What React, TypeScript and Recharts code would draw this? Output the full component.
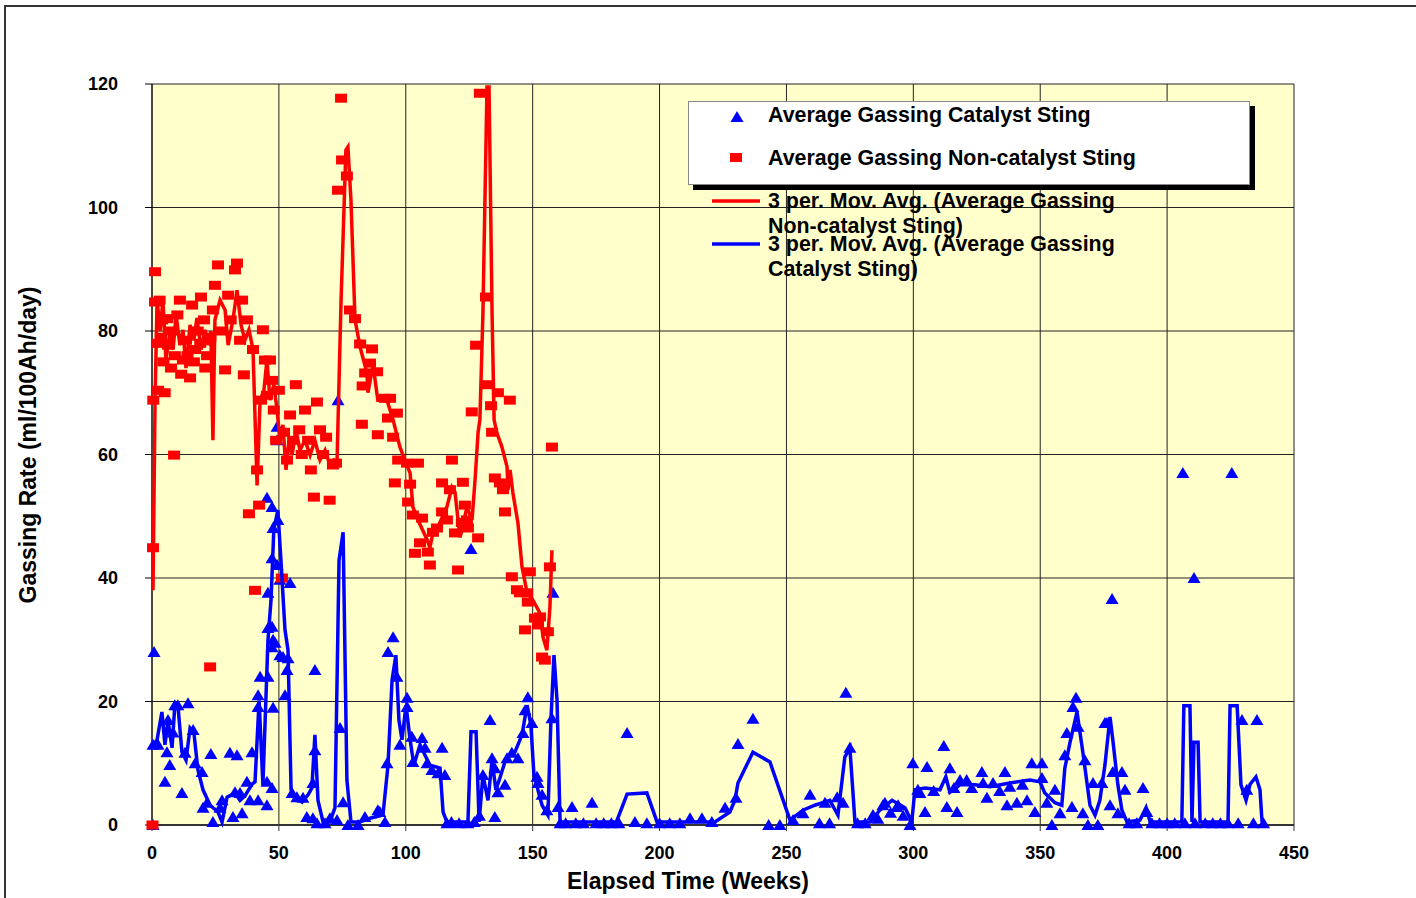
import { ScatterChart, Scatter, XAxis, YAxis, CartesianGrid, Legend } from 'recharts'

// Average Gassing Catalyst Sting (triangles)
const catalystWeeks = [
  0.4, 0.8, 0.4, 2.4, 5.1, 5.9, 6.3, 7, 8.3, 9, 10.2, 11.8, 13, 14.2, 16.2, 17, 19.7, 20.1, 21.7, 23.2,
  24, 26.8, 27.6, 30.7, 31.9, 32.7, 33.5, 34.7, 35.5, 37.4, 38.6, 39.4, 41.8, 41.8, 41.8, 42.6, 45.3, 45.3,
  45.7, 45.7, 45.7, 45.3, 47.3, 47.7, 47.3, 47.7, 47.3, 47.3, 47.3, 47.7, 48.5, 49.3, 49.6, 49.3, 49.3,
  50.4, 50.4, 51.6, 52.4, 53.2, 53.6, 54.4, 55.2, 57.1, 59.5, 61, 63.4, 63.4, 64.2, 64.2, 65, 68.2, 70.1,
  72.9, 73.3, 74.1, 75.3, 77.2, 81.2, 83.9, 89, 89.8, 91.8, 92.6, 93, 95, 96.5, 97.7, 100.5, 100.5, 102.4,
  102.8, 106.4, 107.6, 108.4, 110.3, 112.7, 114.3, 115.4, 116.2, 118, 121, 124.5, 125.7, 127, 129, 130.4,
  133.2, 134, 135.1, 135.1, 136.3, 139.1, 139.9, 141.8, 144.2, 146.2, 147, 148.1, 149.7, 151.7, 152.1,
  153.7, 155.6, 157.6, 158, 160, 160.8, 163, 165.5, 167, 170, 173.4, 175, 178, 181, 184, 187.2, 190.3,
  195, 200, 204, 208, 212, 216.7, 220.6, 225.8, 230.1, 230.9, 236.8, 243, 247.4, 252.6, 256.5, 259.3,
  263, 265.2, 267, 270, 272.3, 273.4, 275, 278, 281, 284.1, 286, 288, 288.8, 291, 293.5, 294, 296, 298.7,
  299.8, 301.8, 302.6, 304.6, 305.4, 308, 312, 313.2, 314.4, 316, 317.2, 318.4, 321, 323, 327, 327.5,
  329, 331.4, 334, 336.1, 336.9, 338, 340.8, 343, 344.8, 346.7, 347.9, 350.7, 350.7, 352.6, 354.6, 355.8,
  357.8, 359.7, 360.5, 362.5, 362.9, 364.1, 364.9, 366.8, 367.6, 368.8, 370.8, 372.7, 374.3, 375.5,
  376.3, 377.5, 378.3, 378.6, 380.6, 382.2, 383.4, 385, 388, 390.5, 392, 394, 397, 400, 403, 406.2, 407,
  410.6, 411, 415, 418, 421, 424, 425.5, 428, 429.5, 431.4, 434, 435.4, 438,
]
const catalystRate = [
  0, 28, 13, 13, 7, 11.8, 17, 9.7, 15, 19.4, 19.4, 5.2, 11.7, 19.7, 15.4, 10, 8.6, 2.8, 3.6, 11.5,
  0.5, 2.8, 4, 11.7, 1.3, 5.3, 11.3, 5.2, 1.9, 7, 4, 11.8, 4, 19.1, 21, 24, 3.2, 7,
  24, 31.9, 37.6, 53, 6, 19, 28.8, 30, 32.1, 43.2, 51.5, 48.1, 29.5, 42.1, 49.4, 62.3, 64.5,
  27.5, 39.7, 27.2, 21, 25.1, 27, 39.2, 5.2, 4.5, 4.4, 1.3, 1.1, 6.8, 12.1, 25.1, 0.3, 0.3, 1.1,
  0.8, 68.8, 15.7, 3.7, 0, 0, 1.3, 2.4, 2.1, 0.5, 10, 28, 30.4, 24, 13, 20.6, 19.1, 14.3,
  10.2, 14.1, 12.5, 10, 8.9, 8.4, 12.5, 8.1, 0.3, 0.5, 0.3, 0.3, 44.7, 0.5, 1.5, 8.1,
  17, 10.8, 9.2, 1.3, 5.3, 6.5, 10.8, 11.7, 10.8, 14.9, 18.6, 20.7, 16.5, 7.8, 6.8,
  4.9, 2.4, 17.3, 37.6, 2.9, 0.3, 0.3, 2.9, 0.3, 0.3, 3.6, 0.3, 0.3, 0.3, 0.3, 14.9, 0.5,
  0.3, 0.3, 0.3, 0.3, 1.1, 1.1, 0.5, 2.8, 4.4, 13.1, 17.2, 0, 0, 0.8, 1.9, 4.9,
  0.3, 3.6, 0.3, 4.5, 3.6, 21.4, 12.5, 0.3, 0.3, 1.6, 1, 3.2, 3.6, 2, 2.9, 3.2, 1.5, 0,
  10, 5.7, 5.2, 2.1, 9.4, 5.5, 12.8, 2.9, 9.2, 6, 2.1, 7.3, 7.3, 6, 8.6, 6.8,
  4.4, 6.8, 5.5, 8.6, 3.2, 6.2, 3.6, 6.5, 4, 10, 2.1, 10, 7.6, 3.6, 0, 5.7,
  1.9, 11.3, 14.9, 2.9, 19.1, 20.6, 15.9, 1.9, 10.5, 0, 6.8, 0, 6.8, 16.5,
  16.5, 3.2, 36.6, 8.6, 1.9, 8.6, 5.7, 0.3, 0.3, 6, 2.1, 0.3, 0.3, 0.3, 0.3, 57, 0.3,
  40, 0.3, 0.3, 0.3, 0.3, 0.3, 57, 0.3, 17, 5.7, 0.3, 17, 0.3,
]

// Average Gassing Non-catalyst Sting (squares)
const nonCatalystWeeks = [
  0.2, 0.4, 0.5, 1.2, 1.2, 2, 2.4, 3, 3.5, 4, 4.5, 5, 6, 6.3, 7.5, 7.9, 8.7, 9, 10, 11, 11.5, 12.2, 13.4,
  14, 15, 15.8, 16.5, 17, 18, 19, 19.3, 20.5, 21, 21.7, 22.9, 23, 24, 24.8, 26, 27.6, 28.8, 30, 31, 32.7,
  33.5, 34.7, 35.5, 36.2, 37.4, 38.2, 39.8, 40.6, 41.4, 42.2, 43, 43.7, 44.5, 45.3, 46.5, 47.3, 48, 48.9,
  50, 51.2, 52, 53.2, 54.4, 55.6, 56.7, 58, 59, 60.3, 61.5, 62.6, 63.8, 65, 66.2, 67.4, 68.6, 70, 71.3,
  72.5, 73.3, 74.5, 74.9, 76.8, 78, 80, 82, 82.7, 83, 84, 85.9, 86.7, 88.7, 89, 91.8, 93, 93.8, 95, 95.7,
  96.5, 97, 100.5, 100.9, 101.7, 102.8, 103.6, 104.8, 105.6, 106.4, 108.7, 109.5, 110.7, 112.3, 114.3,
  114.3, 116.2, 117.4, 118.2, 119.4, 120.6, 122.1, 122.5, 123.3, 124.1, 124.5, 126, 127.7, 128.5, 129.2,
  131.6, 132.4, 133.6, 134, 135.1, 136.3, 137.1, 138.3, 139.1, 141, 141.8, 143.8, 145, 147, 147.8, 148.1,
  148.9, 150.9, 152.1, 152.9, 153.7, 154.8, 156, 156.8, 157.6,
]
const nonCatalystRate = [
  0, 44.9, 68.8, 89.6, 84.7, 78, 70.4, 85, 79, 81.8, 75, 70, 82, 77.7, 74, 80, 59.9, 76, 82.6, 85, 73, 75.3, 78.5,
  76, 72.4, 84.2, 75, 77, 80, 78, 85.5, 81.8, 74, 76, 25.6, 79, 83.4, 87.4, 90.7, 80, 73.7, 85.8, 81.8, 89.9,
  91, 78.5, 85, 72.9, 81.8, 50.4, 77, 38, 57.5, 51.8, 68.8, 80.2, 75.3, 69.6, 75.3, 72, 67.2, 62.3,
  70.4, 40, 63.6, 59.1, 66.4, 62.3, 71.3, 64, 60, 67.2, 62.3, 57.5, 53.1, 68.5, 64, 60, 62.8, 52.6, 58.3,
  58.6, 102.8, 117.7, 107.7, 105.1, 83.4, 82, 77.9, 64.9, 71.1, 73.2, 74.8, 77.1, 73.4, 63.2, 69.1, 65.9, 69.1, 62.8, 55.4,
  66.7, 59.1, 58.6, 52.3, 55.2, 50.2, 44, 58.6, 45.7, 49.7, 44.2, 42.1, 47.4, 48.1, 50.7,
  55.4, 49.4, 54.3, 59.1, 47.3, 41.3, 49, 55.5, 51.8, 49.4, 48.1, 66.9, 77.7, 46.5, 118.5,
  85.5, 71.3, 67.9, 63.6, 56.2, 70, 55.4, 54.3, 50.7, 68.8, 40.2, 38.1, 37.6, 31.6, 37.6, 36.1,
  41, 33.5, 32.4, 33.7, 27.2, 26.7, 31.3, 41.8, 61.2,
]

// 3 per. Mov. Avg. (Average Gassing Non-catalyst Sting)
const nonCatalystAvgWeeks = [
  0.4, 1.2, 2, 3.2, 4.3, 5.5, 7.1, 8.3, 9.5, 11, 12.2, 13.4, 15, 16.5, 17.7, 19.3, 20.9, 22.1, 23.2, 24,
  24.8, 26.8, 28.8, 30, 31.9, 33.5, 35.1, 36.6, 38.2, 39.8, 41.4, 42.6, 44.1, 45.3, 46.5, 48, 49.3, 50.4,
  51.6, 52.8, 54, 55.2, 56.7, 58.3, 60.3, 62.3, 64.2, 66.2, 68.2, 70.1, 71.7, 72.9, 74.5, 76.4, 77.2, 78.4,
  80, 82, 84.7, 85.1, 87.1, 89, 92.6, 95, 97.7, 101.7, 102.8, 104.8, 108.4, 109.5, 110.7, 112.7, 116.2,
  118.2, 119.4, 120.6, 121.4, 122.1, 124.1, 126.1, 127.3, 128.5, 129.2, 130.4, 132, 132.8, 134, 134.8,
  135.9, 137.9, 139.9, 140.3, 141.1, 142.2, 144.2, 145.8, 147.8, 150.1, 152.9, 154.1, 155.6, 156.8, 157.6,
]
const nonCatalystAvgRate = [
  38, 68.8, 85, 80, 85, 75.3, 80, 77, 82.6, 77.7, 80.2, 74, 81, 78.5, 82.1, 77, 80.2, 77.7, 80, 62.3,
  81.8, 85, 83.4, 77.7, 81.8, 86.6, 81, 78.5, 80.2, 77, 55, 68.8, 70.4, 75.3, 68.8, 71.3, 67.2, 62.3,
  64.8, 57.5, 62.3, 59.9, 64, 60.7, 62.3, 59.9, 62.3, 59.1, 60.7, 58.3, 59.1, 58.6, 85, 109.3, 109.8, 101.2,
  81.8, 77.4, 73.2, 70, 74.5, 68.8, 68.8, 65.6, 61.2, 57, 51.5, 49.4, 46.2, 44.9, 47.3, 48.3, 51.5,
  54.7, 53.9, 49.4, 46.6, 47.8, 51.5, 49.4, 55.9, 63.6, 65.6, 82.9, 119.5, 119.5, 82.9, 65.6,
  63.5, 61.2, 58, 54.3, 57.5, 53.8, 48.9, 41.8, 37.6, 36.4, 34.3, 30.4, 28.3, 35.3, 44.5,
]

// 3 per. Mov. Avg. (Average Gassing Catalyst Sting)
const catalystAvgWeeks = [
  0.4, 2, 3.9, 5.1, 6.3, 7.9, 9, 10.2, 11.8, 13.4, 15, 16.5, 18.1, 20.1, 22.9, 26, 27.6, 29.6, 32.7, 34.7,
  36.6, 39.4, 40.6, 42.2, 43.7, 45.7, 46.9, 48, 49.6, 50.8, 52.4, 53.6, 54.8, 56.7, 59.1, 61.5, 63, 64.2,
  65.4, 67.4, 70.1, 72.1, 73.7, 75.3, 76.8, 78.4, 82, 85.9, 91, 93, 94.6, 96.1, 97.3, 98.5, 100.1, 101.7,
  103.2, 105.6, 107.6, 109.5, 113.5, 114.7, 116.2, 124.5, 125.7, 127.7, 128.9, 130.4, 132.4, 134, 135.5,
  137.1, 139.5, 143, 145.8, 147.8, 149.3, 150.5, 153.7, 156, 157.2, 158.4, 159.6, 160.8, 183, 187.2, 195,
  199, 221.8, 227.7, 229.7, 230.9, 236.8, 243.5, 251.4, 256.5, 261.2, 267.1, 270.3, 273, 275, 277, 283,
  286.8, 291.6, 296.7, 299.4, 300.6, 304.6, 310.5, 312.8, 314.4, 318.4, 324.3, 330.2, 338, 345.9, 349.9,
  351.8, 355.8, 358.5, 359.7, 361.7, 364.5, 366.8, 369.6, 371.6, 373.5, 375.5, 377.5, 378.6, 380.6, 382.2,
  384.2, 389.3, 391.7, 393.3, 405.8, 406.6, 409, 409.8, 410.6, 412.2, 413, 424, 424.8, 427.6, 429.1, 431.1,
  432.7, 435, 436.6, 437.4,
]
const catalystAvgRate = [
  13, 13.8, 18.3, 13, 17, 12.5, 19.4, 19.4, 11.8, 10.5, 15.7, 15, 8.9, 5.7, 3.2, 2.1, 0.5, 4.5, 5.2, 4,
  4.7, 6.6, 7, 20.2, 6.5, 30, 36.4, 47.8, 51, 42.9, 31.6, 28.3, 5.7, 4.4, 3.7, 4.9, 6, 14.6,
  4, 0.5, 0.5, 2.8, 42.9, 47.4, 7.3, 0.5, 0.5, 1.1, 1.6, 9.7, 23.5, 27.5, 17, 13.8, 19.4, 13.8,
  9.7, 13, 11.3, 9.7, 9.2, 2.1, 0.5, 0.5, 15.1, 15.1, 0.5, 8.1, 4, 10.5, 5.7,
  7.6, 10.8, 11.8, 14.6, 19.4, 16.2, 8.1, 3.2, 1.6, 17, 27.5, 20.2, 0.5, 0.5, 5, 5.2,
  0.5, 0.5, 2.1, 4, 6.8, 11.8, 10.2, 0.8, 2.4, 3.2, 4, 1.6, 11, 12.5, 0.5, 0.5,
  2.4, 4, 2.8, 0.5, 5.7, 6, 5.7, 7.8, 5.3, 6.5, 6.5, 6.2, 6.8, 7.3, 7,
  5.2, 3.6, 3.2, 9.2, 13.3, 18.3, 11.8, 3.2, 1.6, 4, 9.7, 17.5, 13.8, 6.5, 2.4,
  0.5, 0.8, 2.8, 0.5, 0.5, 19.3, 19.3, 0.5, 13.4, 13.4, 0.5, 0.5, 19.3, 19.3, 6.5, 4,
  6.6, 7.8, 5.7, 0.5,
]

const xTicks = [0, 50, 100, 150, 200, 250, 300, 350, 400, 450]
const yTicks = [0, 20, 40, 60, 80, 100, 120]

const toPoints = (xs: number[], ys: number[]) => xs.map((x, i) => ({ x, y: ys[i] }))

const FONT = '"Liberation Sans", Arial, sans-serif'

const Triangle = (props: any) => {
  const { cx, cy } = props
  if (cx == null || cy == null) return <g />
  return <polygon points={`${cx},${cy - 6} ${cx + 6.5},${cy + 5} ${cx - 6.5},${cy + 5}`} fill="#0000FF" />
}

const Square = (props: any) => {
  const { cx, cy } = props
  if (cx == null || cy == null) return <g />
  return <rect x={cx - 6} y={cy - 4.5} width={12} height={9} fill="#FF0000" />
}

const NoMark = () => <g />

function ChartLegend() {
  const text = { position: 'absolute' as const, left: 80, fontFamily: FONT, fontWeight: 700, fontSize: 21.4, color: '#000', whiteSpace: 'nowrap' as const, lineHeight: '25px' }
  return (
    <div style={{ position: 'relative', width: 562, height: 84 }}>
      <div style={{ position: 'absolute', left: 5, top: 5, width: 562, height: 84, background: '#000' }} />
      <div style={{ position: 'absolute', left: 0, top: 0, width: 560, height: 82, background: '#fff', border: '1px solid #888' }} />
      <svg style={{ position: 'absolute', left: 0, top: 0, overflow: 'visible' }} width={562} height={180}>
        <polygon points="49,10 55.5,21 42.5,21" fill="#0000FF" />
        <rect x={42} y={52} width={12} height={9} fill="#FF0000" />
        <line x1={24} y1={100} x2={72} y2={100} stroke="#FF0000" strokeWidth={3.5} />
        <line x1={24} y1={143} x2={72} y2={143} stroke="#0000FF" strokeWidth={3.5} />
      </svg>
      <div style={{ ...text, top: 2 }}>Average Gassing Catalyst Sting</div>
      <div style={{ ...text, top: 45 }}>Average Gassing Non-catalyst Sting</div>
      <div style={{ ...text, top: 88 }}>3 per. Mov. Avg. (Average Gassing<br />Non-catalyst Sting)</div>
      <div style={{ ...text, top: 131 }}>3 per. Mov. Avg. (Average Gassing<br />Catalyst Sting)</div>
    </div>
  )
}

export default function App() {
  const catalyst = toPoints(catalystWeeks, catalystRate)
  const nonCatalyst = toPoints(nonCatalystWeeks, nonCatalystRate)
  const nonCatalystAvg = toPoints(nonCatalystAvgWeeks, nonCatalystAvgRate)
  const catalystAvg = toPoints(catalystAvgWeeks, catalystAvgRate)

  return (
    <div style={{ position: 'absolute', left: 0, top: 0, width: 1416, height: 898, background: '#fff', overflow: 'hidden' }}>
      <div style={{ position: 'absolute', left: 4, top: 5, width: 1420, height: 900, borderLeft: '2px solid #333', borderTop: '2px solid #333' }} />
      <ScatterChart width={1416} height={898} margin={{ top: 84, right: 122, bottom: 0, left: 100 }}>
        <CartesianGrid fill="#FFFFCC" stroke="#222" strokeWidth={1} horizontalValues={yTicks} verticalValues={xTicks} />
        <XAxis
          type="number"
          dataKey="x"
          domain={[0, 450]}
          ticks={xTicks}
          interval={0}
          height={73}
          tickSize={6}
          tickMargin={15}
          stroke="#333"
          axisLine={{ stroke: '#333', strokeWidth: 2 }}
          tick={{ fill: '#000', fontFamily: FONT, fontWeight: 700, fontSize: 18 }}
          label={{
            content: () => (
              <text x={688} y={889} textAnchor="middle" fontFamily={FONT} fontWeight={700} fontSize={23} fill="#000">
                Elapsed Time (Weeks)
              </text>
            ),
          }}
        />
        <YAxis
          type="number"
          dataKey="y"
          domain={[0, 120]}
          ticks={yTicks}
          interval={0}
          width={52}
          tickSize={7}
          tickMargin={27}
          stroke="#000"
          tick={{ fill: '#000', fontFamily: FONT, fontWeight: 700, fontSize: 18 }}
          label={{
            content: () => (
              <text x={36} y={445} transform="rotate(-90 36 445)" textAnchor="middle" fontFamily={FONT} fontWeight={700} fontSize={23} fill="#000">
                Gassing Rate (ml/100Ah/day)
              </text>
            ),
          }}
        />
        <Legend
          layout="horizontal"
          verticalAlign="middle"
          align="center"
          content={() => <ChartLegend />}
          wrapperStyle={{ position: 'absolute', left: 688, top: 101, width: 562, height: 84 }}
        />
        <Scatter name="Average Gassing Catalyst Sting" data={catalyst} shape={Triangle} isAnimationActive={false} />
        <Scatter name="Average Gassing Non-catalyst Sting" data={nonCatalyst} shape={Square} isAnimationActive={false} />
        <Scatter
          name="3 per. Mov. Avg. (Average Gassing Non-catalyst Sting)"
          data={nonCatalystAvg}
          line={{ stroke: '#FF0000', strokeWidth: 3.5 }}
          shape={NoMark}
          isAnimationActive={false}
        />
        <Scatter
          name="3 per. Mov. Avg. (Average Gassing Catalyst Sting)"
          data={catalystAvg}
          line={{ stroke: '#0000FF', strokeWidth: 3.5 }}
          shape={NoMark}
          isAnimationActive={false}
        />
      </ScatterChart>
    </div>
  )
}
